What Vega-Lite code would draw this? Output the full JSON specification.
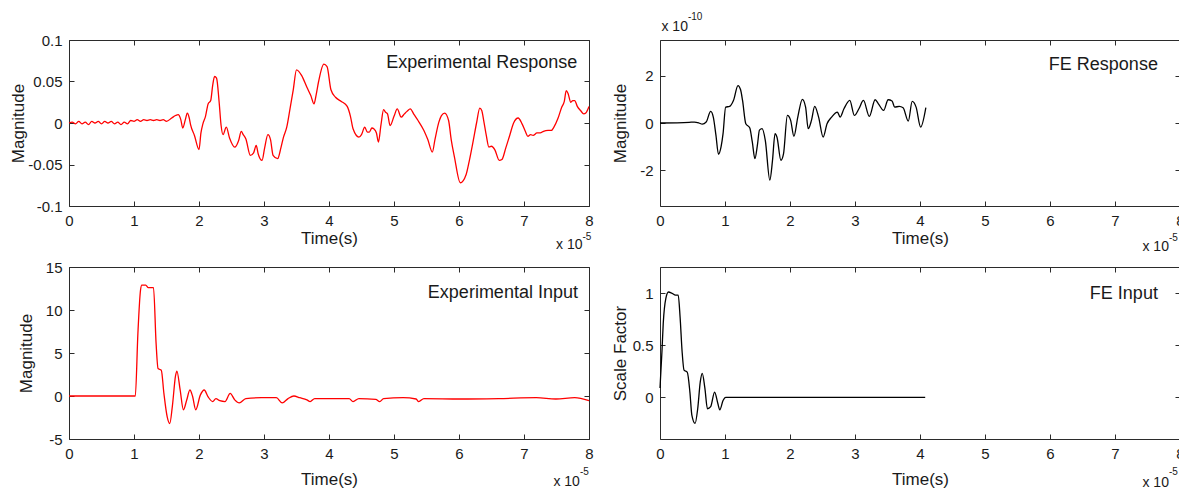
{
  "$schema": "https://vega.github.io/schema/vega-lite/v6.json",
  "background": "white",
  "autosize": {"type": "pad"},
  "padding": {"left": 8, "top": 11, "right": 0, "bottom": 0},
  "config": {
    "font": "Liberation Sans",
    "view": {"stroke": "#2b2b2b", "strokeWidth": 1},
    "axis": {
      "grid": false, "domain": false, "tickSize": -5, "tickColor": "#2b2b2b", "tickWidth": 1,
      "labelFont": "Liberation Sans", "labelFontSize": 15, "labelColor": "#1a1a1a", "labelPadding": 12,
      "labelFlush": false, "labelOverlap": false,
      "titleFont": "Liberation Sans", "titleFontSize": 17, "titleFontWeight": "normal", "titleColor": "#1a1a1a"
    },
    "text": {"font": "Liberation Sans", "color": "#1a1a1a"}
  },
  "datasets": {
    "expResp": [
      {"t":0,"v":0.000},{"t":0.05,"v":0.001},{"t":0.1,"v":-0.001},{"t":0.15,"v":0.002},{"t":0.2,"v":-0.001},{"t":0.25,"v":0.001},{"t":0.3,"v":-0.002},{"t":0.35,"v":0.002},{"t":0.4,"v":0.000},{"t":0.45,"v":0.002},{"t":0.5,"v":-0.001},{"t":0.55,"v":0.002},{"t":0.6,"v":0.000},{"t":0.65,"v":0.002},{"t":0.7,"v":-0.001},{"t":0.75,"v":0.001},{"t":0.8,"v":-0.002},{"t":0.85,"v":0.001},{"t":0.9,"v":-0.001},{"t":0.95,"v":0.003},{"t":1.0,"v":0.002},{"t":1.05,"v":0.004},{"t":1.1,"v":0.002},{"t":1.15,"v":0.004},{"t":1.2,"v":0.003},{"t":1.25,"v":0.004},{"t":1.3,"v":0.003},{"t":1.35,"v":0.004},{"t":1.4,"v":0.003},{"t":1.45,"v":0.004},{"t":1.5,"v":0.002},{"t":1.58,"v":0.006},{"t":1.64,"v":0.009},{"t":1.68,"v":0.010},{"t":1.72,"v":0.004},{"t":1.75,"v":-0.006},{"t":1.79,"v":0.004},{"t":1.82,"v":0.012},{"t":1.85,"v":0.006},{"t":1.87,"v":-0.002},{"t":1.93,"v":-0.015},{"t":2.0,"v":-0.032},{"t":2.03,"v":-0.012},{"t":2.06,"v":-0.001},{"t":2.1,"v":0.008},{"t":2.14,"v":0.023},{"t":2.18,"v":0.027},{"t":2.21,"v":0.045},{"t":2.24,"v":0.056},{"t":2.27,"v":0.054},{"t":2.31,"v":0.025},{"t":2.34,"v":-0.003},{"t":2.37,"v":-0.014},{"t":2.42,"v":-0.005},{"t":2.47,"v":-0.018},{"t":2.55,"v":-0.029},{"t":2.61,"v":-0.021},{"t":2.65,"v":-0.010},{"t":2.68,"v":-0.014},{"t":2.72,"v":-0.019},{"t":2.79,"v":-0.039},{"t":2.84,"v":-0.036},{"t":2.88,"v":-0.027},{"t":2.91,"v":-0.037},{"t":2.97,"v":-0.045},{"t":3.01,"v":-0.030},{"t":3.06,"v":-0.014},{"t":3.1,"v":-0.020},{"t":3.14,"v":-0.039},{"t":3.21,"v":-0.043},{"t":3.26,"v":-0.030},{"t":3.3,"v":-0.017},{"t":3.35,"v":-0.005},{"t":3.4,"v":0.017},{"t":3.45,"v":0.040},{"t":3.5,"v":0.064},{"t":3.58,"v":0.057},{"t":3.66,"v":0.043},{"t":3.72,"v":0.033},{"t":3.77,"v":0.023},{"t":3.8,"v":0.033},{"t":3.84,"v":0.050},{"t":3.92,"v":0.071},{"t":3.97,"v":0.068},{"t":4.03,"v":0.040},{"t":4.1,"v":0.031},{"t":4.19,"v":0.026},{"t":4.28,"v":0.020},{"t":4.33,"v":0.008},{"t":4.37,"v":-0.007},{"t":4.46,"v":-0.017},{"t":4.5,"v":-0.014},{"t":4.55,"v":-0.005},{"t":4.59,"v":-0.011},{"t":4.62,"v":-0.011},{"t":4.66,"v":-0.006},{"t":4.69,"v":-0.007},{"t":4.73,"v":-0.012},{"t":4.76,"v":-0.023},{"t":4.8,"v":-0.002},{"t":4.84,"v":0.016},{"t":4.87,"v":0.013},{"t":4.9,"v":0.011},{"t":4.94,"v":-0.003},{"t":5.0,"v":0.008},{"t":5.05,"v":0.017},{"t":5.11,"v":0.007},{"t":5.16,"v":0.011},{"t":5.2,"v":0.014},{"t":5.25,"v":0.017},{"t":5.31,"v":0.010},{"t":5.37,"v":0.003},{"t":5.46,"v":-0.009},{"t":5.52,"v":-0.020},{"t":5.59,"v":-0.035},{"t":5.63,"v":-0.020},{"t":5.69,"v":0.001},{"t":5.73,"v":0.009},{"t":5.78,"v":0.012},{"t":5.84,"v":0.003},{"t":5.88,"v":-0.020},{"t":5.93,"v":-0.041},{"t":6.02,"v":-0.072},{"t":6.11,"v":-0.062},{"t":6.16,"v":-0.045},{"t":6.22,"v":-0.021},{"t":6.27,"v":0.000},{"t":6.32,"v":0.018},{"t":6.35,"v":0.015},{"t":6.38,"v":0.003},{"t":6.42,"v":-0.015},{"t":6.46,"v":-0.029},{"t":6.5,"v":-0.028},{"t":6.55,"v":-0.032},{"t":6.62,"v":-0.045},{"t":6.66,"v":-0.044},{"t":6.72,"v":-0.030},{"t":6.78,"v":-0.015},{"t":6.84,"v":0.000},{"t":6.91,"v":0.006},{"t":6.97,"v":-0.001},{"t":7.02,"v":-0.010},{"t":7.06,"v":-0.016},{"t":7.1,"v":-0.014},{"t":7.14,"v":-0.015},{"t":7.2,"v":-0.012},{"t":7.25,"v":-0.012},{"t":7.3,"v":-0.010},{"t":7.37,"v":-0.009},{"t":7.42,"v":-0.009},{"t":7.46,"v":-0.005},{"t":7.52,"v":0.005},{"t":7.58,"v":0.019},{"t":7.62,"v":0.026},{"t":7.65,"v":0.039},{"t":7.68,"v":0.035},{"t":7.72,"v":0.025},{"t":7.75,"v":0.027},{"t":7.78,"v":0.027},{"t":7.82,"v":0.020},{"t":7.87,"v":0.015},{"t":7.92,"v":0.011},{"t":7.95,"v":0.012},{"t":8.0,"v":0.020}
    ],
    "feResp": [
      {"t":0,"v":0},{"t":0.45,"v":0.03},{"t":0.53,"v":0.04},{"t":0.6,"v":0.0},{"t":0.65,"v":-0.05},{"t":0.71,"v":0.04},{"t":0.78,"v":0.49},{"t":0.82,"v":0.25},{"t":0.86,"v":-0.5},{"t":0.9,"v":-1.32},{"t":0.94,"v":-1.0},{"t":0.97,"v":-0.45},{"t":1.01,"v":0.67},{"t":1.07,"v":0.70},{"t":1.13,"v":0.95},{"t":1.2,"v":1.58},{"t":1.24,"v":1.4},{"t":1.27,"v":0.95},{"t":1.32,"v":-0.03},{"t":1.38,"v":-0.2},{"t":1.42,"v":-0.8},{"t":1.46,"v":-1.5},{"t":1.5,"v":-0.9},{"t":1.53,"v":-0.3},{"t":1.57,"v":-0.24},{"t":1.62,"v":-0.73},{"t":1.69,"v":-2.41},{"t":1.73,"v":-1.6},{"t":1.77,"v":-0.45},{"t":1.8,"v":-0.6},{"t":1.86,"v":-1.57},{"t":1.9,"v":-1.3},{"t":1.96,"v":0.32},{"t":2.01,"v":0.11},{"t":2.06,"v":-0.56},{"t":2.12,"v":0.25},{"t":2.19,"v":1.0},{"t":2.24,"v":0.67},{"t":2.28,"v":-0.24},{"t":2.33,"v":0.11},{"t":2.38,"v":0.7},{"t":2.44,"v":0.25},{"t":2.51,"v":-0.59},{"t":2.57,"v":-0.03},{"t":2.64,"v":0.25},{"t":2.73,"v":0.46},{"t":2.77,"v":0.25},{"t":2.83,"v":0.6},{"t":2.92,"v":0.95},{"t":2.99,"v":0.32},{"t":3.06,"v":0.6},{"t":3.13,"v":0.95},{"t":3.22,"v":0.28},{"t":3.31,"v":0.98},{"t":3.36,"v":0.81},{"t":3.44,"v":0.53},{"t":3.51,"v":0.98},{"t":3.57,"v":0.93},{"t":3.61,"v":0.67},{"t":3.68,"v":0.7},{"t":3.74,"v":0.64},{"t":3.82,"v":0.08},{"t":3.88,"v":0.91},{"t":3.94,"v":0.67},{"t":4.01,"v":-0.17},{"t":4.09,"v":0.65}
    ],
    "expIn": [
      {"t":0,"v":0},{"t":1.02,"v":0},{"t":1.06,"v":7.3},{"t":1.1,"v":12.3},{"t":1.12,"v":12.9},{"t":1.18,"v":12.9},{"t":1.22,"v":12.6},{"t":1.3,"v":12.6},{"t":1.34,"v":6.1},{"t":1.37,"v":3.2},{"t":1.42,"v":3.0},{"t":1.46,"v":0.3},{"t":1.51,"v":-2.4},{"t":1.55,"v":-3.2},{"t":1.59,"v":-1.2},{"t":1.64,"v":2.4},{"t":1.66,"v":2.9},{"t":1.71,"v":0.7},{"t":1.76,"v":-1.6},{"t":1.81,"v":-0.5},{"t":1.86,"v":0.7},{"t":1.9,"v":0},{"t":1.95,"v":-1.6},{"t":2.02,"v":0.1},{"t":2.08,"v":0.7},{"t":2.14,"v":-0.1},{"t":2.21,"v":-0.65},{"t":2.26,"v":-0.3},{"t":2.32,"v":-0.55},{"t":2.4,"v":-0.65},{"t":2.48,"v":0.3},{"t":2.55,"v":-0.45},{"t":2.62,"v":-0.8},{"t":2.72,"v":-0.3},{"t":2.96,"v":-0.2},{"t":3.08,"v":-0.2},{"t":3.19,"v":-0.2},{"t":3.28,"v":-0.8},{"t":3.37,"v":-0.3},{"t":3.46,"v":0},{"t":3.55,"v":-0.2},{"t":3.66,"v":-0.45},{"t":3.71,"v":-0.65},{"t":3.78,"v":-0.3},{"t":4.08,"v":-0.3},{"t":4.31,"v":-0.3},{"t":4.37,"v":-0.65},{"t":4.46,"v":-0.3},{"t":4.72,"v":-0.4},{"t":4.78,"v":-0.65},{"t":4.84,"v":-0.3},{"t":5.14,"v":-0.2},{"t":5.34,"v":-0.35},{"t":5.38,"v":-0.65},{"t":5.46,"v":-0.3},{"t":6.02,"v":-0.35},{"t":6.61,"v":-0.3},{"t":7.19,"v":-0.2},{"t":7.49,"v":-0.35},{"t":7.78,"v":-0.2},{"t":8.0,"v":-0.55}
    ],
    "feIn": [
      {"t":0,"v":0.09},{"t":0.03,"v":0.44},{"t":0.05,"v":0.71},{"t":0.09,"v":0.95},{"t":0.13,"v":1.01},{"t":0.18,"v":1.0},{"t":0.24,"v":0.98},{"t":0.28,"v":0.98},{"t":0.31,"v":0.76},{"t":0.34,"v":0.44},{"t":0.37,"v":0.26},{"t":0.42,"v":0.24},{"t":0.46,"v":0.05},{"t":0.49,"v":-0.17},{"t":0.54,"v":-0.25},{"t":0.58,"v":-0.11},{"t":0.62,"v":0.15},{"t":0.65,"v":0.23},{"t":0.69,"v":0.09},{"t":0.73,"v":-0.11},{"t":0.78,"v":-0.09},{"t":0.84,"v":0.05},{"t":0.89,"v":-0.06},{"t":0.92,"v":-0.12},{"t":0.97,"v":-0.03},{"t":1.01,"v":0},{"t":4.08,"v":0}
    ]
  },
  "columns": 2,
  "spacing": {"row": 61, "column": 71},
  "bounds": "flush",
  "concat": [
    {
      "width": 520, "height": 166,
      "resolve": {"axis": {"x": "independent", "y": "independent"}},
      "layer": [
        {
          "data": {"name": "expResp"},
          "mark": {"type": "line", "color": "#ff0000", "strokeWidth": 1.3, "interpolate": "monotone"},
          "encoding": {
            "x": {"field": "t", "type": "quantitative", "scale": {"domain": [0, 8], "nice": false, "zero": false},
                  "axis": {"orient": "bottom", "values": [0,1,2,3,4,5,6,7,8], "title": "Time(s)", "titleBaseline": "middle", "titleY": 32}},
            "y": {"field": "v", "type": "quantitative", "scale": {"domain": [-0.1, 0.1], "nice": false, "zero": false},
                  "axis": {"orient": "left", "values": [-0.1,-0.05,0,0.05,0.1], "labelExpr": "'' + datum.value", "title": "Magnitude", "titleBaseline": "middle", "titleX": -51}}
          }
        },
        {
          "data": {"values": [{"t": 7.82, "v": 0.072, "label": "Experimental Response"}]},
          "mark": {"type": "text", "align": "right", "baseline": "middle", "fontSize": 18},
          "encoding": {
            "x": {"field": "t", "type": "quantitative", "scale": {"domain": [0, 8], "nice": false, "zero": false},
                  "axis": {"orient": "top", "values": [0,1,2,3,4,5,6,7,8], "labels": false, "title": null}},
            "y": {"field": "v", "type": "quantitative", "scale": {"domain": [-0.1, 0.1], "nice": false, "zero": false},
                  "axis": {"orient": "right", "values": [-0.1,-0.05,0,0.05,0.1], "labels": false, "title": null}},
            "text": {"field": "label"}
          }
        },
        {
          "data": {"values": [{"t": 7.9, "v": -0.147, "label": "x 10"}]},
          "mark": {"type": "text", "align": "right", "baseline": "middle", "fontSize": 14},
          "encoding": {
            "x": {"field": "t", "type": "quantitative", "axis": null},
            "y": {"field": "v", "type": "quantitative", "axis": null},
            "text": {"field": "label"}
          }
        },
        {
          "data": {"values": [{"t": 7.9, "v": -0.137, "label": "-5"}]},
          "mark": {"type": "text", "align": "left", "baseline": "middle", "fontSize": 10},
          "encoding": {
            "x": {"field": "t", "type": "quantitative", "axis": null},
            "y": {"field": "v", "type": "quantitative", "axis": null},
            "text": {"field": "label"}
          }
        }
      ]
    },
    {
      "width": 520, "height": 166,
      "resolve": {"axis": {"x": "independent", "y": "independent"}},
      "layer": [
        {
          "data": {"name": "feResp"},
          "mark": {"type": "line", "color": "#000000", "strokeWidth": 1.3, "interpolate": "monotone"},
          "encoding": {
            "x": {"field": "t", "type": "quantitative", "scale": {"domain": [0, 8], "nice": false, "zero": false},
                  "axis": {"orient": "bottom", "values": [0,1,2,3,4,5,6,7,8], "title": "Time(s)", "titleBaseline": "middle", "titleY": 32}},
            "y": {"field": "v", "type": "quantitative", "scale": {"domain": [-3.5, 3.5], "nice": false, "zero": false},
                  "axis": {"orient": "left", "values": [-2,0,2], "labelExpr": "'' + datum.value", "title": "Magnitude", "titleBaseline": "middle", "titleX": -40}}
          }
        },
        {
          "data": {"values": [{"t": 7.66, "v": 2.44, "label": "FE Response"}]},
          "mark": {"type": "text", "align": "right", "baseline": "middle", "fontSize": 18},
          "encoding": {
            "x": {"field": "t", "type": "quantitative", "scale": {"domain": [0, 8], "nice": false, "zero": false},
                  "axis": {"orient": "top", "values": [0,1,2,3,4,5,6,7,8], "labels": false, "title": null}},
            "y": {"field": "v", "type": "quantitative", "scale": {"domain": [-3.5, 3.5], "nice": false, "zero": false},
                  "axis": {"orient": "right", "values": [-2,0,2], "labels": false, "title": null}},
            "text": {"field": "label"}
          }
        },
        {
          "data": {"values": [{"t": 7.83, "v": -5.24, "label": "x 10"}, {"t": 0.43, "v": 4.05, "label": "x 10"}]},
          "mark": {"type": "text", "align": "right", "baseline": "middle", "fontSize": 14},
          "encoding": {
            "x": {"field": "t", "type": "quantitative", "axis": null},
            "y": {"field": "v", "type": "quantitative", "axis": null},
            "text": {"field": "label"}
          }
        },
        {
          "data": {"values": [{"t": 7.83, "v": -4.86, "label": "-5"}, {"t": 0.43, "v": 4.48, "label": "-10"}]},
          "mark": {"type": "text", "align": "left", "baseline": "middle", "fontSize": 10},
          "encoding": {
            "x": {"field": "t", "type": "quantitative", "axis": null},
            "y": {"field": "v", "type": "quantitative", "axis": null},
            "text": {"field": "label"}
          }
        }
      ]
    },
    {
      "width": 520, "height": 172,
      "resolve": {"axis": {"x": "independent", "y": "independent"}},
      "layer": [
        {
          "data": {"name": "expIn"},
          "mark": {"type": "line", "color": "#ff0000", "strokeWidth": 1.3, "interpolate": "monotone"},
          "encoding": {
            "x": {"field": "t", "type": "quantitative", "scale": {"domain": [0, 8], "nice": false, "zero": false},
                  "axis": {"orient": "bottom", "values": [0,1,2,3,4,5,6,7,8], "title": "Time(s)", "titleBaseline": "middle", "titleY": 40}},
            "y": {"field": "v", "type": "quantitative", "scale": {"domain": [-5, 15], "nice": false, "zero": false},
                  "axis": {"orient": "left", "values": [-5,0,5,10,15], "labelExpr": "'' + datum.value", "title": "Magnitude", "titleBaseline": "middle", "titleX": -43}}
          }
        },
        {
          "data": {"values": [{"t": 7.83, "v": 11.98, "label": "Experimental Input"}]},
          "mark": {"type": "text", "align": "right", "baseline": "middle", "fontSize": 18},
          "encoding": {
            "x": {"field": "t", "type": "quantitative", "scale": {"domain": [0, 8], "nice": false, "zero": false},
                  "axis": {"orient": "top", "values": [0,1,2,3,4,5,6,7,8], "labels": false, "title": null}},
            "y": {"field": "v", "type": "quantitative", "scale": {"domain": [-5, 15], "nice": false, "zero": false},
                  "axis": {"orient": "right", "values": [-5,0,5,10,15], "labels": false, "title": null}},
            "text": {"field": "label"}
          }
        },
        {
          "data": {"values": [{"t": 7.86, "v": -10.0, "label": "x 10"}]},
          "mark": {"type": "text", "align": "right", "baseline": "middle", "fontSize": 14},
          "encoding": {
            "x": {"field": "t", "type": "quantitative", "axis": null},
            "y": {"field": "v", "type": "quantitative", "axis": null},
            "text": {"field": "label"}
          }
        },
        {
          "data": {"values": [{"t": 7.86, "v": -8.84, "label": "-5"}]},
          "mark": {"type": "text", "align": "left", "baseline": "middle", "fontSize": 10},
          "encoding": {
            "x": {"field": "t", "type": "quantitative", "axis": null},
            "y": {"field": "v", "type": "quantitative", "axis": null},
            "text": {"field": "label"}
          }
        }
      ]
    },
    {
      "width": 520, "height": 172,
      "resolve": {"axis": {"x": "independent", "y": "independent"}},
      "layer": [
        {
          "data": {"name": "feIn"},
          "mark": {"type": "line", "color": "#000000", "strokeWidth": 1.3, "interpolate": "monotone"},
          "encoding": {
            "x": {"field": "t", "type": "quantitative", "scale": {"domain": [0, 8], "nice": false, "zero": false},
                  "axis": {"orient": "bottom", "values": [0,1,2,3,4,5,6,7,8], "title": "Time(s)", "titleBaseline": "middle", "titleY": 40}},
            "y": {"field": "v", "type": "quantitative", "scale": {"domain": [-0.4, 1.25], "nice": false, "zero": false},
                  "axis": {"orient": "left", "values": [0,0.5,1], "labelExpr": "'' + datum.value", "title": "Scale Factor", "titleBaseline": "middle", "titleX": -40}}
          }
        },
        {
          "data": {"values": [{"t": 7.66, "v": 0.99, "label": "FE Input"}]},
          "mark": {"type": "text", "align": "right", "baseline": "middle", "fontSize": 18},
          "encoding": {
            "x": {"field": "t", "type": "quantitative", "scale": {"domain": [0, 8], "nice": false, "zero": false},
                  "axis": {"orient": "top", "values": [0,1,2,3,4,5,6,7,8], "labels": false, "title": null}},
            "y": {"field": "v", "type": "quantitative", "scale": {"domain": [-0.4, 1.25], "nice": false, "zero": false},
                  "axis": {"orient": "right", "values": [0,0.5,1], "labels": false, "title": null}},
            "text": {"field": "label"}
          }
        },
        {
          "data": {"values": [{"t": 7.83, "v": -0.82, "label": "x 10"}]},
          "mark": {"type": "text", "align": "right", "baseline": "middle", "fontSize": 14},
          "encoding": {
            "x": {"field": "t", "type": "quantitative", "axis": null},
            "y": {"field": "v", "type": "quantitative", "axis": null},
            "text": {"field": "label"}
          }
        },
        {
          "data": {"values": [{"t": 7.83, "v": -0.716, "label": "-5"}]},
          "mark": {"type": "text", "align": "left", "baseline": "middle", "fontSize": 10},
          "encoding": {
            "x": {"field": "t", "type": "quantitative", "axis": null},
            "y": {"field": "v", "type": "quantitative", "axis": null},
            "text": {"field": "label"}
          }
        }
      ]
    }
  ]
}
